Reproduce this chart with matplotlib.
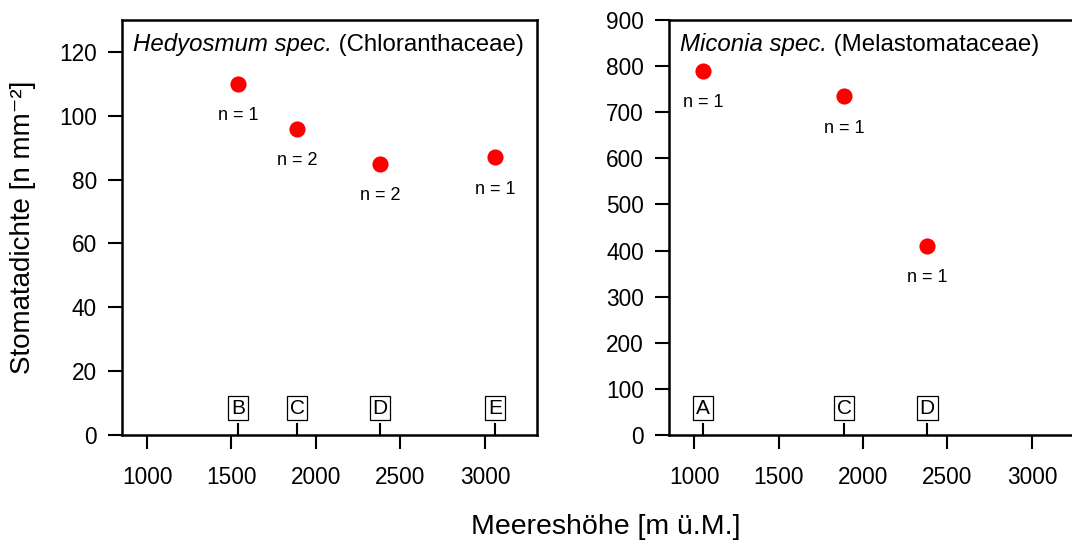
import numpy as np
import matplotlib.pyplot as plt
import matplotlib.transforms as mtransforms

plt.rcParams["font.family"] = ["Liberation Sans", "DejaVu Sans"]

# Hedyosmum (Chloranthaceae)
hed_sites = ["B", "C", "D", "E"]
hed_hoehe = [1538, 1888, 2379, 3059]
hed_dichte = [110, 96, 85, 87]
hed_n = [1, 2, 2, 1]

# Miconia (Melastomataceae)
mic_sites = ["A", "C", "D"]
mic_hoehe = [1053, 1888, 2379]
mic_dichte = [790, 735, 411]
mic_n = [1, 1, 1]

x_ticks = [1000, 1500, 2000, 2500, 3000]


def panel(ax, titel_it, titel_rm, sites, hoehe, dichte, n, ymax, yticks):
    ax.scatter(hoehe, dichte, s=135, color="red", zorder=3, linewidths=0)
    for xi, yi, ni in zip(hoehe, dichte, n):
        ax.annotate("n = %d" % ni, (xi, yi), xytext=(0, -23), textcoords="offset points",
                    ha="center", va="center", fontsize=13)

    # Standorte als Buchstaben mit kleinen Strichen am unteren Rand
    trans = mtransforms.blended_transform_factory(ax.transData, ax.transAxes)
    for s, xi in zip(sites, hoehe):
        ax.plot([xi, xi], [0, 0.027], transform=trans, color="black", lw=1.5, clip_on=False)
        ax.text(xi, 0.065, s, transform=trans, ha="center", va="center", fontsize=15,
                bbox=dict(boxstyle="square,pad=0.14", fc="white", ec="black", lw=0.9))

    # Artname kursiv, Familie normal dahinter
    t = ax.text(0.027, 0.94, titel_it, style="italic", transform=ax.transAxes,
                ha="left", va="center", fontsize=17.3)
    ax.annotate(" " + titel_rm, xy=(1, 0.5), xycoords=t, ha="left", va="center",
                fontsize=17.3)

    ax.set_xlim(852, 3308)
    ax.set_ylim(0, ymax)
    ax.set_xticks(x_ticks)
    ax.set_yticks(yticks)
    ax.tick_params(direction="out", length=10, width=1.5, labelsize=16.3, pad=8)
    ax.tick_params(axis="x", pad=12)
    for sp in ax.spines.values():
        sp.set_linewidth(1.8)


fig = plt.figure(figsize=(10.72, 5.41), dpi=100)
ax1 = fig.add_axes([0.1138, 0.1959, 0.3871, 0.7671])
ax2 = fig.add_axes([0.6241, 0.1959, 0.3871, 0.7671])

panel(ax1, "Hedyosmum spec.", "(Chloranthaceae)", hed_sites, hed_hoehe, hed_dichte, hed_n,
      130, np.arange(0, 121, 20))
panel(ax2, "Miconia spec.", "(Melastomataceae)", mic_sites, mic_hoehe, mic_dichte, mic_n,
      900, np.arange(0, 901, 100))

fig.text(0.565, 0.026, "Meereshöhe [m ü.M.]", ha="center", va="center", fontsize=20.5)
fig.text(0.021, 0.579, "Stomatadichte [n mm⁻²]", ha="center", va="center",
         rotation=90, fontsize=20)

fig.savefig("out.png", dpi=100)
